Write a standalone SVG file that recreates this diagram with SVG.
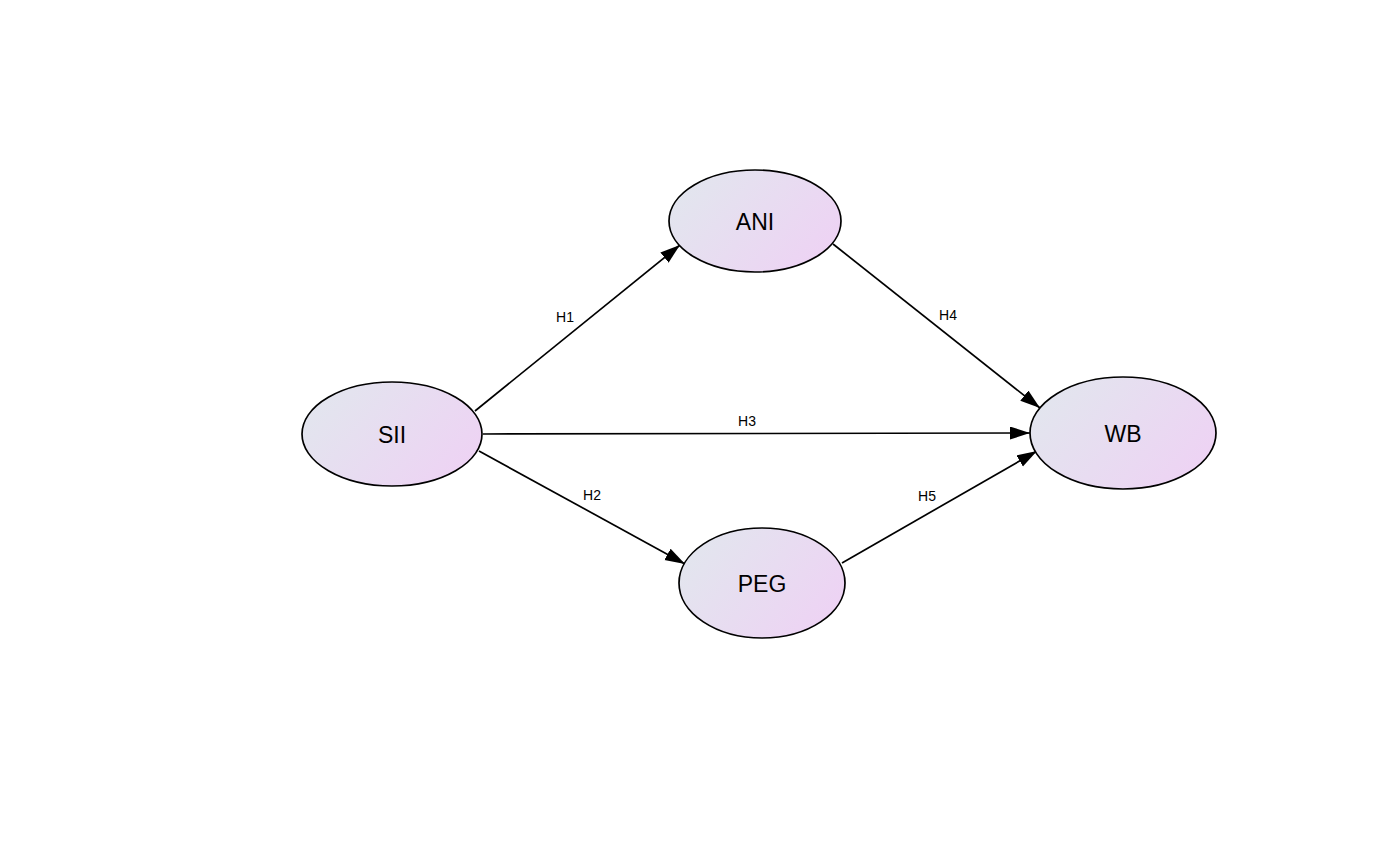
<svg xmlns="http://www.w3.org/2000/svg" width="1400" height="850" viewBox="0 0 1400 850">
<style>
.node{stroke:#000;stroke-width:1.7;fill:url(#g)}
.nl{font-family:"Liberation Sans",Arial,sans-serif;font-size:23px;fill:#000;text-anchor:middle;dominant-baseline:central}
.el{font-family:"Liberation Sans",Arial,sans-serif;font-size:14px;fill:#000;text-anchor:middle}
.edge{stroke:#000;stroke-width:1.7;fill:none;marker-end:url(#arr)}
</style>
<defs>
<linearGradient id="g" x1="0" y1="0.25" x2="1" y2="0.75">
<stop offset="0" stop-color="#e2e6ee"/>
<stop offset="1" stop-color="#eed2f4"/>
</linearGradient>
<marker id="arr" markerUnits="userSpaceOnUse" markerWidth="22" markerHeight="14" refX="20" refY="6.5" orient="auto">
<path d="M0,0 L20,6.5 L0,13 Z" fill="#000"/>
</marker>
</defs>
<rect width="1400" height="850" fill="#fff"/>
<g id="connectors">
<line class="edge" x1="475" y1="411" x2="680" y2="245"/>
<line class="edge" x1="483" y1="434" x2="1030" y2="433"/>
<line class="edge" x1="479" y1="451" x2="685" y2="564"/>
<line class="edge" x1="833" y1="244" x2="1040" y2="408"/>
<line class="edge" x1="842" y1="563" x2="1037" y2="451"/>
<text class="el" x="565" y="322">H1</text>
<text class="el" x="747" y="426">H3</text>
<text class="el" x="592" y="500">H2</text>
<text class="el" x="948" y="320">H4</text>
<text class="el" x="927" y="501">H5</text>
</g>
<g id="SII"><ellipse class="node" cx="392" cy="434" rx="90" ry="52"/><text class="nl" x="392" y="435">SII</text></g>
<g id="ANI"><ellipse class="node" cx="755" cy="221" rx="86" ry="51"/><text class="nl" x="755" y="222">ANI</text></g>
<g id="WB"><ellipse class="node" cx="1123" cy="433" rx="93" ry="56"/><text class="nl" x="1123" y="434">WB</text></g>
<g id="PEG"><ellipse class="node" cx="762" cy="583" rx="83" ry="55"/><text class="nl" x="762" y="584">PEG</text></g>
</svg>
